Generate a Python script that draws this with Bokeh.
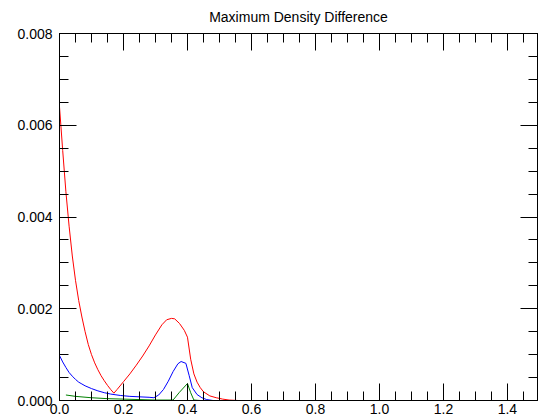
from bokeh.plotting import figure
from bokeh.models import (LinearAxis, SingleIntervalTicker, PrintfTickFormatter, Range1d,
                          CustomLabelingPolicy)
from bokeh.embed import file_html
from bokeh.resources import INLINE

title_text = "Maximum Density Difference"

red_x = [0.000, 0.010, 0.020, 0.030, 0.040, 0.050, 0.060, 0.070, 0.080, 0.090,
         0.100, 0.110, 0.120, 0.130, 0.140, 0.150, 0.160, 0.170, 0.180, 0.200,
         0.220, 0.240, 0.260, 0.280, 0.300, 0.320, 0.335, 0.350, 0.360, 0.375,
         0.390, 0.400, 0.410, 0.420, 0.430, 0.440, 0.450, 0.470, 0.490, 0.510,
         0.530, 0.560]
red_y = [0.00640, 0.00545, 0.00455, 0.00380, 0.00315, 0.00262, 0.00218, 0.00182, 0.00150, 0.00122,
         0.00100, 0.00082, 0.00067, 0.00054, 0.00043, 0.00033, 0.00024, 0.00016, 0.00024, 0.00041,
         0.00058, 0.00077, 0.00097, 0.00119, 0.00143, 0.00165, 0.00176, 0.00179, 0.00178, 0.00168,
         0.00153, 0.00138, 0.00090, 0.00058, 0.00040, 0.00028, 0.00019, 0.00010, 0.00006, 0.00003,
         0.00001, 0.00000]

blue_x = [0.000, 0.010, 0.020, 0.030, 0.040, 0.050, 0.060, 0.070, 0.080, 0.100,
          0.120, 0.140, 0.160, 0.190, 0.220, 0.250, 0.280, 0.295, 0.310, 0.325,
          0.340, 0.355, 0.370, 0.380, 0.395, 0.405, 0.415, 0.430, 0.445, 0.460,
          0.480]
blue_y = [0.00098, 0.00084, 0.00072, 0.00061, 0.00053, 0.00046, 0.00040, 0.00036, 0.00032, 0.00026,
          0.00021, 0.00017, 0.00014, 0.00011, 0.00009, 0.00008, 0.00007, 0.00006, 0.00012, 0.00024,
          0.00042, 0.00063, 0.00080, 0.00085, 0.00081, 0.00055, 0.00028, 0.00013, 0.00006, 0.00002,
          0.00000]

green_x = [0.020, 0.050, 0.100, 0.150, 0.200, 0.250, 0.300, 0.355, 0.375, 0.400,
           0.410, 0.420, 0.440]
green_y = [0.00012, 0.00009, 0.00006, 0.00004, 0.00003, 0.00002, 0.00001, 0.00001, 0.00018, 0.00037,
           0.00017, 0.00001, 0.00000]

x_min, x_max = 0.0, 1.494
y_min, y_max = 0.0, 0.008

FONT = "Liberation Sans"

p = figure(width=543, height=419, x_range=Range1d(x_min, x_max), y_range=Range1d(y_min, y_max),
           output_backend="svg", toolbar_location=None,
           min_border_left=59, min_border_right=3, min_border_top=33, min_border_bottom=19,
           title=title_text)
p.grid.visible = False
p.outline_line_color = "black"
p.background_fill_color = "white"
p.border_fill_color = "white"

p.title.text_font = FONT
p.title.text_font_size = "14px"
p.title.text_font_style = "normal"
p.title.text_color = "black"
p.title.align = "center"
p.title.standoff = 10
p.title.offset = 0


def style(ax, show_labels, standoff):
    ax.axis_line_color = "black"
    ax.major_tick_line_color = "black"
    ax.minor_tick_line_color = "black"
    ax.major_tick_in = 17
    ax.major_tick_out = 0
    ax.minor_tick_in = 9
    ax.minor_tick_out = 0
    ax.major_label_text_font = FONT
    ax.major_label_text_color = "black"
    ax.major_label_standoff = standoff
    if show_labels:
        ax.major_label_text_font_size = "14px"
    else:
        ax.major_label_text_font_size = "1px"
        ax.major_label_policy = CustomLabelingPolicy(code="return new Set()")


xt = SingleIntervalTicker(interval=0.2, num_minor_ticks=4)
yt = SingleIntervalTicker(interval=0.002, num_minor_ticks=4)

p.xaxis.ticker = xt
p.yaxis.ticker = yt
p.xaxis.formatter = PrintfTickFormatter(format="%.1f")
p.yaxis.formatter = PrintfTickFormatter(format="%.3f")
style(p.xaxis[0], True, 3)
style(p.yaxis[0], True, 7)

top = LinearAxis(ticker=SingleIntervalTicker(interval=0.2, num_minor_ticks=4))
style(top, False, 0)
p.add_layout(top, "above")
right = LinearAxis(ticker=SingleIntervalTicker(interval=0.002, num_minor_ticks=4))
style(right, False, 0)
p.add_layout(right, "right")

p.line(red_x, red_y, line_color="#ff0000", line_width=1)
p.line(blue_x, blue_y, line_color="#0000ff", line_width=1)
p.line(green_x, green_y, line_color="#008000", line_width=1)

open("out.html", "w").write(file_html(p, INLINE))
